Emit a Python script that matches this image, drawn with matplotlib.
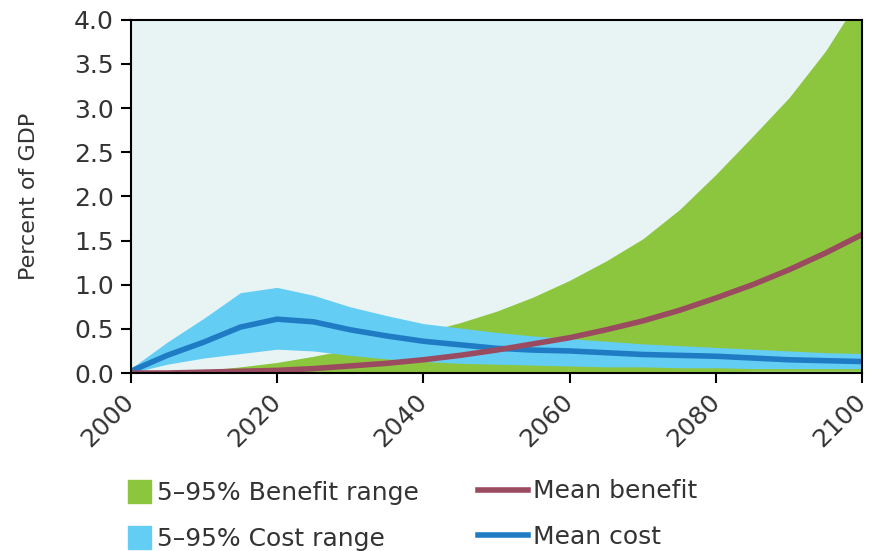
import matplotlib
matplotlib.use("Agg")
import matplotlib.pyplot as plt
from matplotlib.patches import Patch
from matplotlib.lines import Line2D

#-----------------------Data-----------------------#
years = [2000, 2005, 2010, 2015, 2020, 2025, 2030, 2035, 2040, 2045, 2050,
         2055, 2060, 2065, 2070, 2075, 2080, 2085, 2090, 2095, 2100]

benefit_hi = [0.0, 0.01, 0.03, 0.07, 0.12, 0.19, 0.27, 0.36, 0.46, 0.57, 0.70,
              0.86, 1.05, 1.27, 1.52, 1.85, 2.25, 2.68, 3.12, 3.65, 4.3]
benefit_lo = [0.0, 0.0, 0.0, 0.0, 0.0, 0.01, 0.01, 0.01, 0.01, 0.01, 0.01,
              0.01, 0.01, 0.01, 0.01, 0.01, 0.01, 0.02, 0.02, 0.02, 0.02]
mean_benefit = [0.0, 0.0, 0.01, 0.02, 0.03, 0.05, 0.08, 0.11, 0.15, 0.20, 0.26,
                0.33, 0.40, 0.49, 0.59, 0.71, 0.85, 1.0, 1.17, 1.36, 1.57]

cost_hi = [0.05, 0.35, 0.62, 0.91, 0.97, 0.88, 0.75, 0.65, 0.56, 0.51, 0.46,
           0.42, 0.39, 0.36, 0.33, 0.31, 0.29, 0.27, 0.25, 0.23, 0.22]
cost_lo = [0.0, 0.10, 0.17, 0.22, 0.27, 0.25, 0.20, 0.16, 0.13, 0.11, 0.10,
           0.09, 0.08, 0.07, 0.07, 0.06, 0.06, 0.05, 0.05, 0.05, 0.05]
mean_cost = [0.02, 0.20, 0.35, 0.52, 0.61, 0.58, 0.49, 0.42, 0.36, 0.32, 0.28,
             0.26, 0.25, 0.23, 0.21, 0.20, 0.19, 0.17, 0.15, 0.14, 0.13]

y_ticks = [0.0, 0.5, 1.0, 1.5, 2.0, 2.5, 3.0, 3.5, 4.0]
x_ticks = [2000, 2020, 2040, 2060, 2080, 2100]

# colours
bg_col = "#e8f4f4"
green = "#8cc63f"
cyan = "#64cdf4"
maroon = "#9a4b60"
blue = "#1f7cc4"
txt_col = "#333333"

plt.rcParams["font.family"] = ["DejaVu Sans"]

fig = plt.figure(figsize=(8.71, 5.51), dpi=100)
ax = fig.add_axes([0.150, 0.323, 0.840, 0.641])
ax.set_facecolor(bg_col)

ax.fill_between(years, benefit_lo, benefit_hi, color=green, lw=0)
ax.fill_between(years, cost_lo, cost_hi, color=cyan, lw=0)
ax.plot(years, mean_cost, color=blue, lw=4, solid_capstyle="butt")
ax.plot(years, mean_benefit, color=maroon, lw=4, solid_capstyle="butt")

ax.set_xlim(2000, 2100)
ax.set_ylim(0, 4.0)
ax.set_yticks(y_ticks)
ax.set_yticklabels(["%.1f" % v for v in y_ticks], fontsize=18, color=txt_col)
ax.set_xticks(x_ticks)
ax.set_xticklabels([str(v) for v in x_ticks], fontsize=18, rotation=45,
                   ha="right", va="center", rotation_mode="anchor",
                   color=txt_col)
ax.tick_params(direction="out", length=7, width=1.5, color="black")
ax.tick_params(axis="y", pad=5)
ax.tick_params(axis="x", pad=11)
for s in ax.spines.values():
    s.set_linewidth(1.5)
ax.set_ylabel("Percent of GDP", fontsize=16, color=txt_col)
ax.yaxis.set_label_coords(-0.125, 0.5)

# legend split into two columns, patches and lines
leg1 = fig.legend(handles=[Patch(color=green), Patch(color=cyan)],
                  labels=["5\u201395% Benefit range", "5\u201395% Cost range"],
                  loc="upper left", bbox_to_anchor=(0.147, 0.128),
                  frameon=False, fontsize=18, handlelength=0.9, handleheight=1.0,
                  handletextpad=0.25, labelspacing=0.85, borderpad=0,
                  borderaxespad=0, labelcolor=txt_col)
leg2 = fig.legend(handles=[Line2D([], [], color=maroon, lw=4),
                           Line2D([], [], color=blue, lw=4)],
                  labels=["Mean benefit", "Mean cost"],
                  loc="upper left", bbox_to_anchor=(0.549, 0.130),
                  frameon=False, fontsize=18, handlelength=2.0,
                  handletextpad=0.2, labelspacing=0.85, borderpad=0,
                  borderaxespad=0, labelcolor=txt_col)

fig.savefig("out.png", dpi=100)
